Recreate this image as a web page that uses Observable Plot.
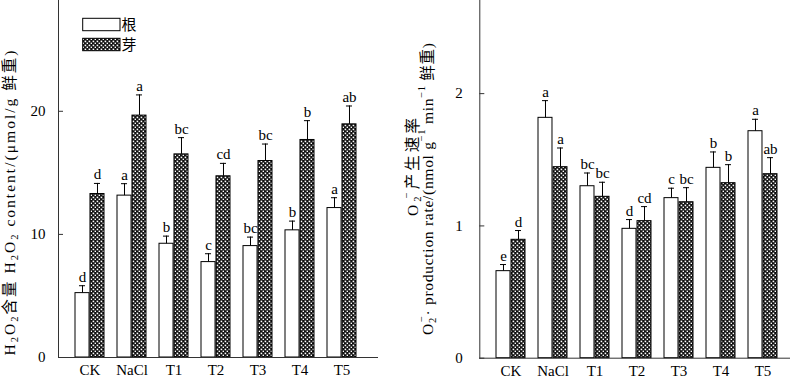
<!DOCTYPE html>
<html><head><meta charset="utf-8">
<script src="https://cdn.jsdelivr.net/npm/d3@7"></script>
<script src="https://cdn.jsdelivr.net/npm/@observablehq/plot@0.6"></script>
<style>
body{margin:0;background:#fff;}
#wrap{display:flex;width:800px;height:379px;overflow:hidden;}
svg{font-family:"Liberation Serif","Noto Sans CJK SC",serif;}
</style></head><body><div id="wrap"></div>
<script>
const groups = ["CK","NaCl","T1","T2","T3","T4","T5"];
const series = ["根","芽"];
// H2O2 content (left panel)
const h2o2Root      = [5.23, 13.15, 9.24, 7.75, 9.05, 10.33, 12.14];
const h2o2RootErr   = [0.60, 0.97, 0.62, 0.68, 0.73, 0.75, 0.84];
const h2o2Shoot     = [13.28, 19.65, 16.50, 14.72, 15.96, 17.67, 18.94];
const h2o2ShootErr  = [0.86, 1.68, 1.36, 1.05, 1.38, 1.57, 1.49];
const h2o2RootSig   = ["d","a","b","c","bc","b","a"];
const h2o2ShootSig  = ["d","a","bc","cd","bc","b","ab"];
const h2o2Ticks     = [0, 10, 20];
// O2- production rate (right panel)
const o2Root        = [0.658, 1.817, 1.300, 0.978, 1.210, 1.439, 1.716];
const o2RootErr     = [0.050, 0.130, 0.100, 0.070, 0.075, 0.120, 0.090];
const o2Shoot       = [0.895, 1.444, 1.220, 1.036, 1.179, 1.323, 1.391];
const o2ShootErr    = [0.070, 0.145, 0.110, 0.110, 0.110, 0.140, 0.125];
const o2RootSig     = ["e","a","bc","d","c","b","a"];
const o2ShootSig    = ["d","a","bc","cd","bc","b","ab"];
const o2Ticks       = [0, 1, 2];

function addPattern(svg, id) {
  const defs = svg.insert("defs", ":first-child");
  const p = defs.append("pattern").attr("id", id).attr("patternUnits", "userSpaceOnUse")
    .attr("width", 4).attr("height", 4);
  p.append("rect").attr("width", 4).attr("height", 4).attr("fill", "#111");
  p.append("rect").attr("x", 0.6).attr("y", 0.6).attr("width", 1.6).attr("height", 1.6).attr("fill", "#fff");
  p.append("rect").attr("x", 2.6).attr("y", 2.6).attr("width", 1.6).attr("height", 1.6).attr("fill", "#fff");
}

function addRotLabel(svg, x, y, parts, size, len) {
  const t = svg.append("text")
    .attr("transform", `translate(${x},${y}) rotate(-90)`)
    .attr("text-anchor", "middle").attr("dominant-baseline", "central")
    .attr("font-size", size).attr("fill", "#000");
  if (len) t.attr("textLength", len).attr("lengthAdjust", "spacing");
  for (const [s, kind, dx] of parts) {
    const ts = t.append("tspan").text(s);
    if (kind === "sub") ts.attr("baseline-shift", "sub").attr("font-size", size * 0.68);
    if (kind === "sup") ts.attr("baseline-shift", "super").attr("font-size", size * 0.68);
    if (dx) ts.attr("dx", dx);
  }
}

function panel(cfg) {
  const rows = groups.flatMap((g, i) => [
    {g, s: series[0], v: cfg.root[i], e: cfg.rootErr[i], sig: cfg.rootSig[i]},
    {g, s: series[1], v: cfg.shoot[i], e: cfg.shootErr[i], sig: cfg.shootSig[i]}
  ]);
  const rootRows = rows.filter(d => d.s === series[0]);
  const shootRows = rows.filter(d => d.s === series[1]);
  const pi = 0.3;
  const bw = (cfg.xRange[1] - cfg.xRange[0]) / (groups.length - pi) * (1 - pi);
  const half = bw / 2, q = bw / 4, cap = 3.5;
  const fw = cfg.width - cfg.marginLeft - cfg.marginRight;
  const top = d => d.v + d.e;
  const font = 15;
  const node = Plot.plot({
    width: cfg.width, height: 379,
    marginLeft: cfg.marginLeft, marginRight: cfg.marginRight,
    marginTop: 0, marginBottom: cfg.marginBottom,
    style: {fontFamily: '"Liberation Serif","Noto Sans CJK SC",serif', fontSize: font + "px", background: "#fff", overflow: "visible"},
    x: {domain: groups, range: cfg.xRange, paddingInner: pi, paddingOuter: 0, axis: null},
    y: {domain: cfg.yDomain, axis: null},
    marks: [
      Plot.barY(rootRows, {x: "g", y: "v", fill: "#fff", stroke: "#000", strokeWidth: 1, insetRight: half}),
      Plot.barY(shootRows, {x: "g", y: "v", fill: `url(#${cfg.pid})`, stroke: "#000", strokeWidth: 1, insetLeft: half}),
      Plot.ruleX(rootRows, {x: "g", y1: "v", y2: top, dx: -q, stroke: "#000", strokeWidth: 1}),
      Plot.ruleX(shootRows, {x: "g", y1: "v", y2: top, dx: q, stroke: "#000", strokeWidth: 1}),
      Plot.tickY(rootRows, {x: "g", y: top, insetLeft: q - cap, insetRight: 3 * q - cap, stroke: "#000", strokeWidth: 1}),
      Plot.tickY(shootRows, {x: "g", y: top, insetLeft: 3 * q - cap, insetRight: q - cap, stroke: "#000", strokeWidth: 1}),
      Plot.text(rootRows, {x: "g", y: top, text: "sig", dx: -q, dy: -4, lineAnchor: "bottom", fontSize: font, fill: "#000"}),
      Plot.text(shootRows, {x: "g", y: top, text: "sig", dx: q, dy: -4, lineAnchor: "bottom", fontSize: font, fill: "#000"}),
      Plot.ruleY([0], {stroke: "#333", strokeWidth: 1}),
      Plot.frame({anchor: "left", stroke: "#333", strokeWidth: 1}),
      Plot.tickY(cfg.ticks, {y: d => d, insetRight: fw - 5, stroke: "#333", strokeWidth: 1}),
      Plot.axisY(cfg.ticks, {tickSize: 0, tickPadding: cfg.tickPad, fontSize: font, fill: "#000", label: null, tickFormat: d => String(d)}),
      Plot.axisX(groups, {tickSize: 0, tickPadding: 7, fontSize: font, fill: "#000", label: null})
    ]
  });
  const svg = d3.select(node);
  addPattern(svg, cfg.pid);
  return {node, svg};
}

const wrap = document.getElementById("wrap");

const left = panel({
  width: 400, marginLeft: 58, marginRight: 22, marginBottom: 22,
  xRange: [72.7, 359.3], yDomain: [0, 29.0], ticks: h2o2Ticks, tickPad: 13,
  root: h2o2Root, rootErr: h2o2RootErr, shoot: h2o2Shoot, shootErr: h2o2ShootErr,
  rootSig: h2o2RootSig, shootSig: h2o2ShootSig, pid: "hatchL"
});
wrap.appendChild(left.node);
addRotLabel(left.svg, 9, 203, [
  ["H"], ["2","sub"], ["O"], ["2","sub"], ["含量 H"], ["2","sub"], ["O"], ["2","sub"],
  [" content/(μmol/g 鲜重)"]
], 15.5, 305);
// legend
left.svg.append("rect").attr("x", 82.7).attr("y", 18.3).attr("width", 37.3).attr("height", 12.4)
  .attr("fill", "#fff").attr("stroke", "#000");
left.svg.append("rect").attr("x", 82.7).attr("y", 38.3).attr("width", 37.3).attr("height", 12.4)
  .attr("fill", "url(#hatchL)").attr("stroke", "#000");
left.svg.append("text").attr("x", 129).attr("y", 25).attr("dominant-baseline", "central")
  .attr("font-size", 15).text(series[0]);
left.svg.append("text").attr("x", 129).attr("y", 45).attr("dominant-baseline", "central")
  .attr("font-size", 15).text(series[1]);

const right = panel({
  width: 400, marginLeft: 79.3, marginRight: 10, marginBottom: 21.3,
  xRange: [93.3, 380.7], yDomain: [0, 2.704], ticks: o2Ticks, tickPad: 17,
  root: o2Root, rootErr: o2RootErr, shoot: o2Shoot, shootErr: o2ShootErr,
  rootSig: o2RootSig, shootSig: o2ShootSig, pid: "hatchR"
});
wrap.appendChild(right.node);
addRotLabel(right.svg, 12, 167, [
  ["O"], ["2","sub"], ["−","sup",-5], ["产生速率"]
], 15.5, 98);
addRotLabel(right.svg, 27, 189, [
  ["O"], ["2","sub"], ["−","sup",-5], ["· production rate/(nmol g"], ["−1","sup"], [" min"], ["−1","sup"], [" 鲜重)"]
], 15.5, 292);
</script></body></html>
